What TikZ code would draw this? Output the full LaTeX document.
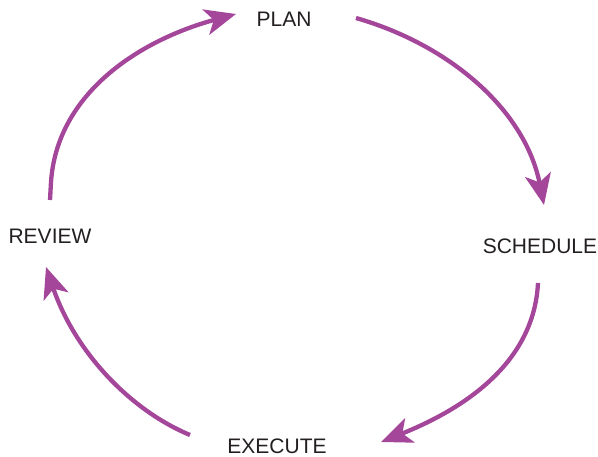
\documentclass[tikz,border=0pt]{standalone}
\usepackage{fontspec}
\setmainfont{Liberation Sans}
\usetikzlibrary{arrows.meta}
\definecolor{cyc}{HTML}{A4479A}
\definecolor{txt}{HTML}{231F20}
\tikzset{
  lbl/.style={text=txt, font=\fontsize{21}{25}\selectfont, inner sep=0pt},
  cycarrow/.style={draw=cyc, line width=4.3pt, -{Stealth[length=31pt, width=26pt, inset=8pt]}}
}
\begin{document}
\begin{tikzpicture}[x=1pt, y=-1pt]
\useasboundingbox (0,0) rectangle (598,457);
\node[lbl] (plan) at (284,19) {PLAN};
\node[lbl] (schedule) at (540,246) {SCHEDULE};
\node[lbl] (execute) at (277,446) {EXECUTE};
\node[lbl] (review) at (50,236) {REVIEW};
\coordinate (a1s) at (356,18);
\coordinate (a1e) at (544,205);
\coordinate (a2s) at (538,283);
\coordinate (a2e) at (381,442);
\coordinate (a3s) at (190,435);
\coordinate (a3e) at (46,267);
\coordinate (a4s) at (50,200);
\coordinate (a4m) at (51,182);
\coordinate (a4e) at (236,14);
\draw[cycarrow] (a1s) .. controls (450,45) and (525,110) .. (a1e);
\draw[cycarrow] (a2s) .. controls (534,362) and (466,408) .. (a2e);
\draw[cycarrow] (a3s) .. controls (130,410) and (75,352) .. (a3e);
\draw[cycarrow] (a4s) -- (a4m) .. controls (57,93) and (140,40) .. (a4e);
\end{tikzpicture}
\end{document}
